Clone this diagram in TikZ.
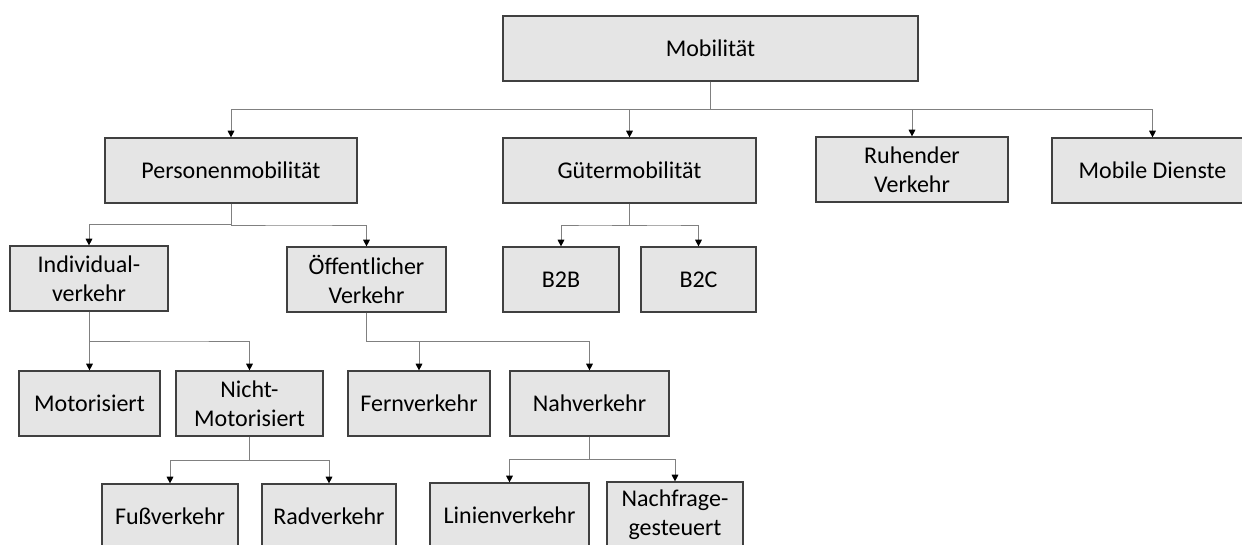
\documentclass[tikz,border=0pt]{standalone}
\usepackage{fontspec}
\setmainfont{Carlito}
\usetikzlibrary{arrows.meta,calc}
\tikzset{
  box/.style={draw=black!75, line width=0.9pt, fill=gray!20, inner sep=0pt, align=center,
    font=\fontsize{18pt}{22pt}\selectfont},
  conn/.style={draw=black!50, line width=0.7pt, -{Triangle[width=5pt,length=5pt,color=black]}}
}
\newcommand\bx[6]{\node[box, minimum width={(#4-#2)*0.75pt}, minimum height={(#5-#3)*0.75pt}] (#1) at ({(#2+#4)/2},{(#3+#5)/2}) {#6};}
\newcommand\cn[2]{\draw[conn] (#1.south) |- ($(#1.south)!0.5!(#2.north)$) -| (#2.north);}
\begin{document}
\begin{tikzpicture}[x=0.75pt,y=-0.75pt]
\useasboundingbox (0,0) rectangle (1242,544);
\clip (0,0) rectangle (1242,544);
\bx{mob}{503}{16}{918}{81}{Mobilität}
\bx{per}{105}{138}{357}{203}{Personenmobilität}
\bx{gut}{503}{138}{756}{203}{Gütermobilität}
\bx{ruh}{816}{137}{1008}{202}{Ruhender\\Verkehr}
\bx{mdi}{1052}{138}{1253}{203}{Mobile Dienste}
\bx{ind}{10}{246}{168}{311}{Individual-\\verkehr}
\bx{oef}{287}{247}{446}{312}{Öffentlicher\\Verkehr}
\bx{bb}{503}{247}{619}{312}{B2B}
\bx{bc}{641}{247}{756}{312}{B2C}
\bx{mot}{19}{371}{160}{436}{Motorisiert}
\bx{nmo}{176}{371}{323}{436}{Nicht-\\Motorisiert}
\bx{fer}{348}{371}{490}{436}{Fernverkehr}
\bx{nah}{510}{371}{669}{436}{Nahverkehr}
\bx{fus}{102}{484}{238}{549}{Fußverkehr}
\bx{rad}{262}{484}{396}{549}{Radverkehr}
\bx{lin}{430}{483}{589}{548}{Linienverkehr}
\bx{nac}{607}{482}{743}{547}{Nachfrage-\\gesteuert}
\cn{mob}{per}\cn{mob}{gut}\cn{mob}{ruh}\cn{mob}{mdi}
\cn{per}{ind}\cn{per}{oef}
\cn{gut}{bb}\cn{gut}{bc}
\cn{ind}{mot}\cn{ind}{nmo}
\cn{oef}{fer}\cn{oef}{nah}
\cn{nmo}{fus}\cn{nmo}{rad}
\cn{nah}{lin}\cn{nah}{nac}
\end{tikzpicture}
\end{document}
